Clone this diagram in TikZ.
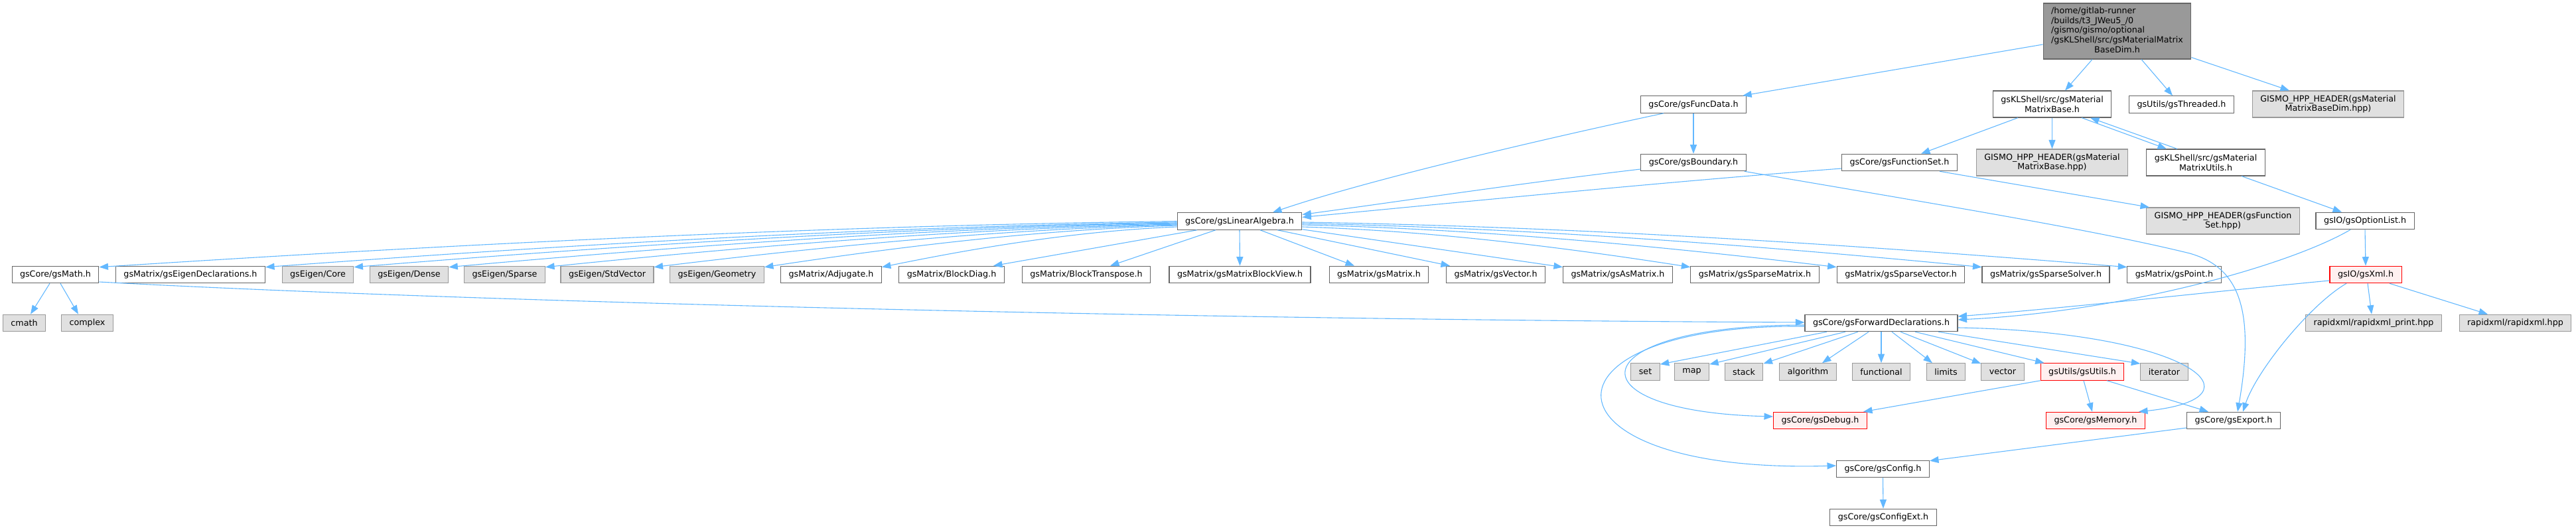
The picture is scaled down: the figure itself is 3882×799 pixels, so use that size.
\documentclass[tikz,border=0pt]{standalone}
\usepackage{fontspec}
\setmainfont{DejaVu Sans}
\usetikzlibrary{arrows.meta,calc}
\definecolor{edgeblue}{HTML}{63B8FF}
\definecolor{bordergray}{HTML}{666666}
\definecolor{lightborder}{HTML}{999999}
\definecolor{extfill}{HTML}{E0E0E0}
\definecolor{rootfill}{HTML}{999999}
\definecolor{redfill}{HTML}{FFF0F0}
\definecolor{redborder}{HTML}{FF0000}
\newcommand\fanedge[2]{\draw[dep] let \p1=(#1), \p2=(#2) in (\p1) .. controls ({\x1+(\x2-\x1)/3},{\y1+(\y2-\y1)*0.1}) and ({\x2-(\x2-\x1)/3},{\y2-(\y2-\y1)*0.5}) .. (\p2);}
\begin{document}
\begin{tikzpicture}[x=1pt,y=-1pt,
  box/.style={draw=bordergray, fill=white, line width=1.1pt, inner xsep=12pt, inner ysep=2pt,
              minimum height=25.5pt, font=\fontsize{12.7}{14.7}\selectfont, align=center},
  ext/.style={box, fill=extfill, draw=lightborder},
  bad/.style={box, fill=redfill, draw=redborder},
  two/.style={minimum height=40pt},
  dep/.style={draw=edgeblue, line width=1.1pt, -{Triangle[length=13.5pt,width=10pt]}}]
\useasboundingbox (0,0) rectangle (3882,799);

% row 0
\node[box, fill=rootfill, minimum height=84pt] (root) at (3190.5,47)
  {\begin{tabular}{@{}l@{}}/home/gitlab-runner\\/builds/t3\_JWeu5\_/0\\/gismo/gismo/optional\\/gsKLShell/src/gsMaterialMatrix\\\multicolumn{1}{@{}c@{}}{BaseDim.h}\end{tabular}};
% row 1
\node[box] (funcdata) at (2552,157.5) {gsCore/gsFuncData.h};
\node[box,two] (matbase) at (3092.5,157) {gsKLShell/src/gsMaterial\\MatrixBase.h};
\node[box] (threaded) at (3287.5,157.5) {gsUtils/gsThreaded.h};
\node[ext,two] (hppdim) at (3508.5,157) {GISMO\_HPP\_HEADER(gsMaterial\\MatrixBaseDim.hpp)};
% row 2
\node[box] (boundary) at (2552,245) {gsCore/gsBoundary.h};
\node[box] (funcset) at (2862.5,245) {gsCore/gsFunctionSet.h};
\node[ext,two] (hppbase) at (3092.5,245) {GISMO\_HPP\_HEADER(gsMaterial\\MatrixBase.hpp)};
\node[box,two] (matutils) at (3324,245) {gsKLShell/src/gsMaterial\\MatrixUtils.h};
% row 3
\node[box] (la) at (1868,333.5) {gsCore/gsLinearAlgebra.h};
\node[ext,two] (hppfs) at (3350,333) {GISMO\_HPP\_HEADER(gsFunction\\Set.hpp)};
\node[box] (optlist) at (3564,333) {gsIO/gsOptionList.h};
% row 4
\node[box] (math) at (83.5,414) {gsCore/gsMath.h};
\node[box] (eigdecl) at (287,414) {gsMatrix/gsEigenDeclarations.h};
\node[ext] (core) at (479,414) {gsEigen/Core};
\node[ext] (dense) at (616.5,414) {gsEigen/Dense};
\node[ext] (sparse) at (760.5,414) {gsEigen/Sparse};
\node[ext] (stdvec) at (915,414) {gsEigen/StdVector};
\node[ext] (geom) at (1080.5,414) {gsEigen/Geometry};
\node[box] (adj) at (1252.5,414) {gsMatrix/Adjugate.h};
\node[box] (bdiag) at (1434,414) {gsMatrix/BlockDiag.h};
\node[box] (btrans) at (1637,414) {gsMatrix/BlockTranspose.h};
\node[box] (mbv) at (1868.5,414) {gsMatrix/gsMatrixBlockView.h};
\node[box] (gsmatrix) at (2078,414) {gsMatrix/gsMatrix.h};
\node[box] (gsvector) at (2254,414) {gsMatrix/gsVector.h};
\node[box] (asmat) at (2438,414) {gsMatrix/gsAsMatrix.h};
\node[box] (spmat) at (2644.5,414) {gsMatrix/gsSparseMatrix.h};
\node[box] (spvec) at (2864.5,414) {gsMatrix/gsSparseVector.h};
\node[box] (spsolver) at (3083,414) {gsMatrix/gsSparseSolver.h};
\node[box] (point) at (3276.5,414) {gsMatrix/gsPoint.h};
\node[bad] (xml) at (3565,414) {gsIO/gsXml.h};
% row 5
\node[ext] (cmath) at (36.5,487) {cmath};
\node[ext] (complex) at (131.5,487) {complex};
\node[box] (fwd) at (2835,487) {gsCore/gsForwardDeclarations.h};
\node[ext] (rxprint) at (3577,487) {rapidxml/rapidxml\_print.hpp};
\node[ext] (rx) at (3790.5,487) {rapidxml/rapidxml.hpp};
% row 6
\node[ext] (set) at (2479.5,560.5) {set};
\node[ext] (map) at (2549.5,560.5) {map};
\node[ext] (stack) at (2628,560.5) {stack};
\node[ext] (algorithm) at (2724.5,560.5) {algorithm};
\node[ext] (functional) at (2835,560.5) {functional};
\node[ext] (limits) at (2932.5,560.5) {limits};
\node[ext] (vector) at (3018,560.5) {vector};
\node[bad] (utils) at (3138,560.5) {gsUtils/gsUtils.h};
\node[ext] (iterator) at (3261.5,560.5) {iterator};
% row 7
\node[bad] (debug) at (2743,634) {gsCore/gsDebug.h};
\node[bad] (memory) at (3158,634) {gsCore/gsMemory.h};
\node[box] (export) at (3366,634) {gsCore/gsExport.h};
% rows 8, 9
\node[box] (config) at (2837.5,707) {gsCore/gsConfig.h};
\node[box] (configext) at (2838,780) {gsCore/gsConfigExt.h};

% root edges
\draw[dep] ([yshift=-20pt]root.west) -- ([xshift=-6pt]funcdata.north east);
\draw[dep] ([xshift=-37.5pt]root.south) -- ([xshift=19.5pt]matbase.north);
\draw[dep] ([xshift=36.5pt]root.south) -- ([xshift=-13.5pt]threaded.north);
\draw[dep] ([yshift=3pt]root.south east) -- ([xshift=-58.5pt]hppdim.north);
% funcdata, boundary, funcset
\draw[dep] (funcdata.south) -- (boundary.north);
\draw[dep] ([xshift=-45pt]funcdata.south) .. controls (2300,215) and (2050,275) .. ([xshift=50pt]la.north);
\draw[dep] ([yshift=-10pt]boundary.west) .. controls (2300,275) and (2100,305) .. ([yshift=10pt]la.east);
\draw[dep] ([yshift=-9pt]funcset.west) .. controls (2500,275) and (2200,305) .. ([yshift=6pt]la.east);
\draw[dep] ([xshift=-3pt]boundary.south east) .. controls (2900,305) and (3150,345) .. (3300,382)
           .. controls (3370,402) and (3400,460) .. ([xshift=6pt]export.north);
\draw[dep] ([xshift=60.5pt]funcset.south) -- ([xshift=-111pt]hppfs.north);
% material matrix base / utils
\draw[dep] ([xshift=-51.5pt]matbase.south) -- ([xshift=32.5pt]funcset.north);
\draw[dep] (matbase.south) -- (hppbase.north);
\draw[dep] ([xshift=44.5pt]matbase.south) -- ([xshift=-59pt]matutils.north);
\draw[dep] ([xshift=-43pt]matutils.north) -- ([xshift=57.5pt]matbase.south);
\draw[dep] ([xshift=54pt]matutils.south) -- ([xshift=-35pt]optlist.north);
% option list, xml
\draw[dep] (optlist.south) -- (xml.north);
\draw[dep] ([xshift=-22pt]optlist.south) .. controls (3450,400) and (3200,470) .. ([yshift=5pt]fwd.east);
\draw[dep] ([yshift=-9pt]xml.west) .. controls (3330,440) and (3140,462) .. ([yshift=10pt]fwd.east);
\draw[dep] ([xshift=3pt]xml.south) -- ([xshift=-3pt]rxprint.north);
\draw[dep] ([xshift=36pt]xml.south) -- ([xshift=-41.5pt]rx.north);
\draw[dep] ([xshift=-29pt]xml.south) .. controls (3480,460) and (3400,560) .. ([xshift=14pt]export.north);
% math
\draw[dep] ([xshift=-8.5pt]math.south) -- ([xshift=9.5pt]cmath.north);
\draw[dep] ([xshift=7.5pt]math.south) -- ([xshift=-13.5pt]complex.north);
\draw[dep] ([yshift=-11pt]math.east) .. controls (700,455) and (1800,482) .. ([yshift=1pt]fwd.west);
% linear algebra fan
\fanedge{la.west}{[yshift=-2pt]math.north east}
\fanedge{[yshift=-1.5pt]la.west}{[yshift=-2pt]eigdecl.north east}
\fanedge{[yshift=-2.5pt]la.west}{[yshift=-2pt]core.north east}
\fanedge{[yshift=-3.5pt]la.west}{[yshift=-2pt]dense.north east}
\fanedge{[yshift=-4.5pt]la.west}{[yshift=-2pt]sparse.north east}
\fanedge{[yshift=-5.5pt]la.west}{[yshift=-2pt]stdvec.north east}
\fanedge{[yshift=-6.5pt]la.west}{[yshift=-2pt]geom.north east}
\fanedge{[yshift=-8.5pt]la.west}{[yshift=-2pt]adj.north east}
\draw[dep] ([xshift=-64pt]la.south) -- ([xshift=63pt]bdiag.north);
\draw[dep] ([xshift=-36pt]la.south) -- ([xshift=36pt]btrans.north);
\draw[dep] (la.south) -- (mbv.north);
\draw[dep] ([xshift=31pt]la.south) -- ([xshift=-37pt]gsmatrix.north);
\draw[dep] ([xshift=57pt]la.south) -- ([xshift=-69pt]gsvector.north);
\draw[dep] ([yshift=1pt]la.south east) -- ([yshift=-2pt]asmat.north west);
\fanedge{[yshift=-8.5pt]la.east}{[yshift=-2pt]spmat.north west}
\fanedge{[yshift=-5.5pt]la.east}{[yshift=-2pt]spvec.north west}
\fanedge{[yshift=-3.5pt]la.east}{[yshift=-2pt]spsolver.north west}
\fanedge{[yshift=-1.5pt]la.east}{[yshift=-2pt]point.north west}
% forward declarations
\draw[dep] ([xshift=-82pt]fwd.south) -- ([yshift=-2pt]set.north east);
\draw[dep] ([xshift=-54pt]fwd.south) -- ([yshift=-2pt]map.north east);
\draw[dep] ([xshift=-35pt]fwd.south) -- ([yshift=-1pt]stack.north east);
\draw[dep] ([xshift=-19pt]fwd.south) -- ([xshift=21.5pt]algorithm.north);
\draw[dep] (fwd.south) -- (functional.north);
\draw[dep] ([xshift=16pt]fwd.south) -- ([xshift=-20.5pt]limits.north);
\draw[dep] ([xshift=29pt]fwd.south) -- ([yshift=-1pt]vector.north west);
\draw[dep] ([xshift=51pt]fwd.south) -- ([xshift=6pt]utils.north west);
\draw[dep] ([xshift=86pt]fwd.south) -- ([yshift=-1pt]iterator.north west);
\draw[dep] ([yshift=-7pt]fwd.east) .. controls (3300,500) and (3420,600) .. ([xshift=-10pt]memory.north east);
\draw[dep] ([yshift=-3pt]fwd.west) .. controls (2380,490) and (2360,620) .. ([yshift=6pt]debug.west);
\draw[dep] ([yshift=-5pt]fwd.west) .. controls (2300,488) and (2310,715) .. ([yshift=5pt]config.west);
% utils, export, config
\draw[dep] (utils.south west) -- ([xshift=-6pt]debug.north east);
\draw[dep] ([xshift=2pt]utils.south) -- ([xshift=-5pt]memory.north);
\draw[dep] ([xshift=37pt]utils.south) -- ([xshift=-38pt]export.north);
\draw[dep] ([yshift=-11pt]export.west) -- ([yshift=-1pt]config.north east);
\draw[dep] (config.south) -- (configext.north);
\end{tikzpicture}
\end{document}
